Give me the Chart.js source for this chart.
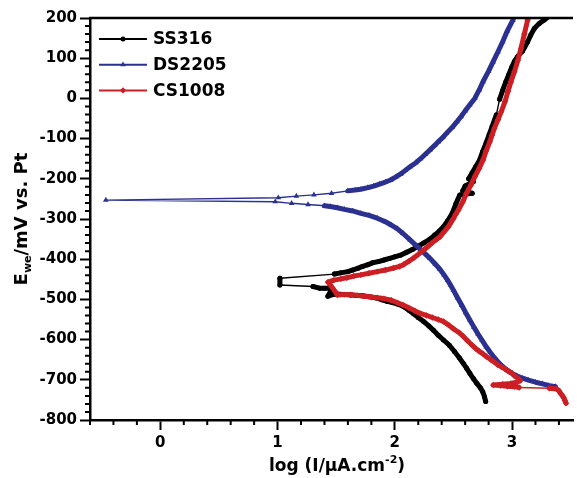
<!DOCTYPE html>
<html>
<head>
<meta charset="utf-8">
<script src="https://cdn.jsdelivr.net/npm/chart.js@4.4.1/dist/chart.umd.min.js"></script>
<style>
  html, body { margin: 0; padding: 0; background: #fff; }
  #wrap { width: 577px; height: 478px; }
</style>
</head>
<body>
<div id="wrap"><canvas id="tafel"></canvas></div>
<script>
// log(I) and E values, in scan order (cathodic -> anodic)
const ss316X = [2.775, 2.765, 2.75, 2.73, 2.70, 2.67, 2.64, 2.612, 2.584, 2.55, 2.51, 2.465, 2.415, 2.37, 2.33, 2.29, 2.246, 2.20, 2.16, 2.12,
  2.077, 2.03, 1.98, 1.936, 1.89, 1.851, 1.81, 1.767, 1.72, 1.67, 1.625, 1.57, 1.52, 1.485, 1.429, 1.46, 1.443, 1.40, 1.358, 1.302,
  1.02, 1.02, 1.485, 1.54, 1.598, 1.64, 1.682, 1.725, 1.767, 1.81, 1.86, 1.908, 1.955, 2.00, 2.048, 2.10, 2.15, 2.19, 2.245, 2.30,
  2.34, 2.38, 2.415, 2.45, 2.49, 2.52, 2.555, 2.66, 2.58, 2.60, 2.67, 2.63, 2.66, 2.69, 2.724, 2.75, 2.78, 2.805, 2.83, 2.866,
  2.894, 2.92, 2.945, 2.97, 2.995, 3.02, 3.05, 3.09, 3.133, 3.16, 3.19, 3.23, 3.274, 3.31];
const ss316Y = [-754, -742, -730, -720, -709, -697, -684, -671, -659, -645, -630, -614, -601, -589, -577, -566, -555, -545, -536, -527,
  -518, -512, -508, -505, -501, -497, -495, -493, -491, -490, -489, -488, -487, -487, -492, -476, -472, -472, -472, -468,
  -464, -447.5, -437, -434, -431, -427, -423, -418, -414, -409, -406, -402, -398, -394, -390, -383, -376, -369, -360, -350,
  -340, -330, -319, -305, -286, -263, -240, -236, -230, -218, -207, -200, -185, -170, -153, -132, -110, -90, -70, -41,
  -2, 20, 40, 58, 76, 92, 105, 118, 141, 158, 174, 186, 195, 203];

const ds2205X = [3.37, 3.31, 3.26, 3.20, 3.14, 3.09, 3.04, 3.00, 2.96, 2.92, 2.885, 2.85, 2.815, 2.78, 2.745, 2.71, 2.675, 2.64, 2.605, 2.57,
  2.535, 2.50, 2.475, 2.45, 2.42, 2.385, 2.345, 2.30, 2.246, 2.19, 2.13, 2.07, 2.02, 1.97, 1.92, 1.85, 1.78, 1.71, 1.64, 1.57,
  1.51, 1.45, 1.40, 1.26, 1.12, 0.98, -0.465, 1.006, 1.16, 1.31, 1.46, 1.60, 1.66, 1.71, 1.77, 1.82, 1.87, 1.92, 1.964, 2.01,
  2.05, 2.09, 2.13, 2.18, 2.22, 2.26, 2.30, 2.34, 2.37, 2.41, 2.44, 2.49, 2.53, 2.565, 2.60, 2.64, 2.682, 2.72, 2.753, 2.80,
  2.838, 2.88, 2.92, 2.96, 3.007, 3.02];
const ds2205Y = [-717, -714, -710, -706, -701, -696, -690, -684, -676, -667, -657, -645, -632, -618, -602, -586, -569, -551, -533, -514,
  -496, -477, -464, -452, -439, -425, -412, -398, -383, -368, -352, -336, -324, -315, -307, -298, -291, -286, -280, -276,
  -272, -269, -267, -264, -261, -257, -253, -247, -243, -240, -236, -230, -228, -226, -222, -218, -213, -208, -203, -195,
  -188, -179, -170, -160, -150, -139, -128, -117, -108, -97, -87, -72, -58, -45, -31, -16, 0, 21, 42, 68,
  91, 116, 141, 168, 195, 205];

const cs1008X = [3.46, 3.45, 3.44, 3.425, 3.41, 3.40, 3.38, 3.32, 3.06, 3.02, 2.96, 2.90, 2.84, 2.92, 2.99, 3.04, 3.07, 3.05, 3.02, 3.00,
  2.97, 2.94, 2.91, 2.88, 2.85, 2.82, 2.78, 2.75, 2.72, 2.69, 2.66, 2.62, 2.584, 2.55, 2.50, 2.46, 2.415, 2.37, 2.32, 2.27,
  2.217, 2.17, 2.12, 2.07, 2.02, 1.97, 1.908, 1.85, 1.80, 1.74, 1.68, 1.625, 1.57, 1.51, 1.49, 1.47, 1.45, 1.43, 1.48, 1.54,
  1.59, 1.65, 1.71, 1.78, 1.85, 1.92, 1.99, 2.04, 2.077, 2.12, 2.16, 2.20, 2.246, 2.28, 2.316, 2.35, 2.386, 2.42, 2.457, 2.50,
  2.52, 2.542, 2.58, 2.612, 2.65, 2.682, 2.72, 2.753, 2.78, 2.81, 2.83, 2.85, 2.88, 2.908, 2.94, 2.965, 2.99, 3.02, 3.05, 3.077,
  3.105, 3.133, 3.14];
const cs1008Y = [-758, -751, -744, -738, -732, -727, -723, -721, -719, -717, -716, -714, -713, -711, -709, -706, -702, -696, -690, -684,
  -679, -673, -668, -663, -656, -650, -642, -635, -629, -622, -614, -603, -592, -583, -573, -564, -555, -550, -545, -540,
  -535, -528, -521, -514, -508, -502, -498, -496, -494, -492, -490, -488, -488, -489, -480, -472, -464, -457, -452, -449,
  -446, -442, -439, -435, -431, -427, -422, -418, -413, -405, -397, -388, -377, -369, -360, -352, -344, -332, -319, -299,
  -288, -278, -257, -236, -215, -195, -174, -153, -130, -108, -91, -74, -53, -33, -8, 17, 41, 66, 95, 125,
  160, 195, 205];

const xTicks = [0, 1, 2, 3];
const yTicks = [-800, -700, -600, -500, -400, -300, -200, -100, 0, 100, 200];

const FONT = "'DejaVu Sans', sans-serif";

function pairs(xs, ys) {
  return xs.map((x, i) => ({ x: x, y: ys[i] }));
}

// thin line where the scan jumps, thick where the markers pile up
function segWidth(ctx) {
  const d = Math.hypot(ctx.p1.x - ctx.p0.x, ctx.p1.y - ctx.p0.y);
  return d > 16 ? 1.4 : 5;
}

function series(label, xs, ys, color, style, r, order) {
  return {
    label: label,
    data: pairs(xs, ys),
    showLine: true,
    borderColor: color,
    backgroundColor: color,
    pointBackgroundColor: color,
    pointBorderColor: color,
    pointBorderWidth: 0,
    pointStyle: style,
    pointRadius: r,
    borderWidth: 1.5,
    borderJoinStyle: "round",
    borderCapStyle: "round",
    segment: { borderWidth: segWidth },
    order: order
  };
}

const extras = {
  id: "extras",
  afterDraw(chart) {
    const ctx = chart.ctx;
    const area = chart.chartArea;
    const xs = chart.scales.x, ys = chart.scales.y;
    ctx.save();

    // top frame
    ctx.strokeStyle = "#000";
    ctx.lineWidth = 2.5;
    ctx.beginPath();
    ctx.moveTo(area.left - 1, area.top);
    ctx.lineTo(area.right, area.top);
    ctx.stroke();

    // minor ticks
    ctx.lineWidth = 2;
    ctx.beginPath();
    for (let i = -3; i <= 17; i++) {
      if (i % 5 === 0) continue;
      const px = xs.getPixelForValue(i * 0.2);
      ctx.moveTo(px, area.bottom);
      ctx.lineTo(px, area.bottom + 5);
    }
    for (let i = -40; i <= 10; i++) {
      if (i % 5 === 0) continue;
      const py = ys.getPixelForValue(i * 20);
      ctx.moveTo(area.left - 5, py);
      ctx.lineTo(area.left, py);
    }
    ctx.stroke();

    // legend
    ctx.font = "bold 17px " + FONT;
    ctx.textAlign = "left";
    ctx.textBaseline = "middle";
    chart.data.datasets.forEach((ds, i) => {
      const y = 39 + i * 25.7;
      ctx.strokeStyle = ds.borderColor;
      ctx.lineWidth = 2;
      ctx.beginPath();
      ctx.moveTo(99, y);
      ctx.lineTo(147, y);
      ctx.stroke();
      ctx.fillStyle = ds.pointBackgroundColor;
      Chart.helpers.drawPoint(ctx, { pointStyle: ds.pointStyle, radius: ds.pointRadius, rotation: 0, borderWidth: 0 }, 123, y);
      ctx.fillStyle = "#000";
      ctx.fillText(ds.label, 153, y + 1);
    });

    // axis titles
    const big = "bold 18px " + FONT, small = "bold 11px " + FONT;
    ctx.fillStyle = "#000";
    ctx.textBaseline = "alphabetic";

    ctx.save();
    ctx.translate(27, (area.top + area.bottom) / 2);
    ctx.rotate(-Math.PI / 2);
    ctx.font = big;
    const wE = ctx.measureText("E").width;
    const wRest = ctx.measureText("/mV vs. Pt").width;
    ctx.font = small;
    const wSub = ctx.measureText("we").width;
    let x0 = -(wE + wSub + wRest) / 2;
    ctx.font = big;
    ctx.fillText("E", x0, 0);
    ctx.font = small;
    ctx.fillText("we", x0 + wE, 4);
    ctx.font = big;
    ctx.fillText("/mV vs. Pt", x0 + wE + wSub, 0);
    ctx.restore();

    const xt = "bold 17px " + FONT;
    ctx.font = xt;
    const wA = ctx.measureText("log (I/µA.cm").width;
    const wC = ctx.measureText(")").width;
    ctx.font = small;
    const wB = ctx.measureText("-2").width;
    const base = 471;
    x0 = 337 - (wA + wB + wC) / 2;
    ctx.font = xt;
    ctx.fillText("log (I/µA.cm", x0, base);
    ctx.font = small;
    ctx.fillText("-2", x0 + wA, base - 8);
    ctx.font = xt;
    ctx.fillText(")", x0 + wA + wB, base);

    ctx.restore();
  }
};

const tickFont = { family: FONT, size: 15, weight: "bold" };

new Chart(document.getElementById("tafel"), {
  type: "scatter",
  data: {
    datasets: [
      series("SS316", ss316X, ss316Y, "#000000", "circle", 2.5, 3),
      series("DS2205", ds2205X, ds2205Y, "#2b3190", "triangle", 3.3, 2),
      series("CS1008", cs1008X, cs1008Y, "#cc1f24", "rectRot", 3.2, 1)
    ]
  },
  options: {
    responsive: true,
    maintainAspectRatio: false,
    animation: false,
    layout: { padding: { top: 18, right: 0, left: 0, bottom: 0 } },
    plugins: { legend: { display: false }, tooltip: { enabled: false } },
    scales: {
      x: {
        type: "linear",
        min: -0.6,
        max: 3.52,
        afterFit: s => { s.height = 58; },
        afterBuildTicks: s => { s.ticks = xTicks.map(v => ({ value: v })); },
        grid: { display: true, drawOnChartArea: false, drawTicks: true, tickLength: 10, tickWidth: 2, tickColor: "#000" },
        border: { display: true, color: "#000", width: 2.5 },
        ticks: { color: "#000", font: tickFont, padding: 4, maxRotation: 0, autoSkip: false }
      },
      y: {
        type: "linear",
        min: -800,
        max: 200,
        afterFit: s => { s.width = 90; },
        afterBuildTicks: s => { s.ticks = yTicks.map(v => ({ value: v })); },
        grid: { display: true, drawOnChartArea: false, drawTicks: true, tickLength: 10, tickWidth: 2, tickColor: "#000" },
        border: { display: true, color: "#000", width: 2.5 },
        ticks: { color: "#000", font: tickFont, padding: 3, autoSkip: false }
      }
    }
  },
  plugins: [extras]
});
</script>
</body>
</html>
